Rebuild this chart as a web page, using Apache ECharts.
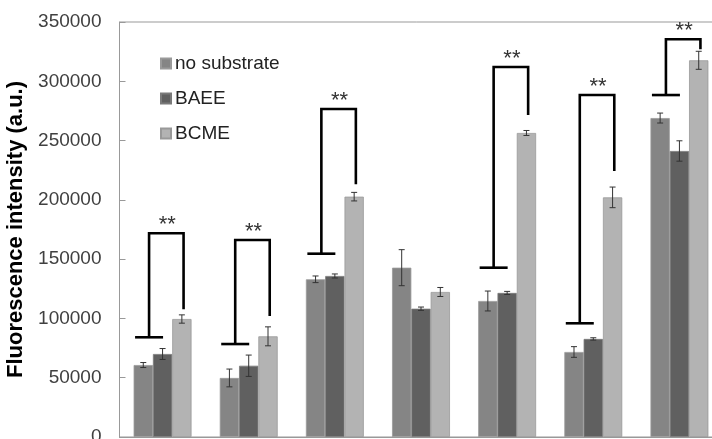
<!DOCTYPE html>
<html>
<head>
<meta charset="utf-8">
<script src="https://cdn.jsdelivr.net/npm/echarts@6/dist/echarts.min.js"></script>
<style>html,body{margin:0;padding:0;background:#fff;}#c{width:712px;height:439px;}</style>
</head>
<body>
<div id="c"></div>
<script>
var categories = ['1', '2', '3', '4', '5', '6', '7'];
var seriesNames = ['no substrate', 'BAEE', 'BCME'];
var noSubstrate = [60700, 49800, 133000, 142800, 114700, 71700, 269000];
var noSubstrateErr = [2100, 7500, 2800, 15200, 8400, 4500, 4200];
var baee = [70000, 60100, 135800, 108200, 121500, 82700, 241200];
var baeeErr = [4600, 9000, 1700, 1400, 1300, 1000, 8600];
var bcme = [99500, 84900, 202700, 122300, 256400, 202100, 317700];
var bcmeErr = [3500, 8000, 3600, 3800, 2100, 8700, 7600];
var yTicks = [0, 50000, 100000, 150000, 200000, 250000, 300000, 350000];
// significance brackets: category index, base bar level, bracket top, right end, label
var sigGroups = [0, 1, 2, 4, 5, 6];
var sigBase = [84100, 78400, 154600, 142800, 95900, 288400];
var sigTop = [171800, 166100, 276600, 312000, 288400, 335400];
var sigEnd = [107700, 102000, 213100, 271600, 224300, 327000];
var sigLabel = ['**', '**', '**', '**', '**', '**'];

var colors = ['#858585', '#606060', '#b3b3b3'];
var BW = 19.3;
var FONT = '"Liberation Sans", Arial, sans-serif';

function errSeries(vals, errs, off) {
  var d = vals.map(function (v, i) { return [i, v, errs[i]]; });
  return {
    type: 'custom', silent: true, z: 5, data: d,
    renderItem: function (params, api) {
      var i = api.value(0), v = api.value(1), e = api.value(2);
      var p1 = api.coord([i, v + e]), p2 = api.coord([i, v - e]);
      var x = p1[0] + off, h = 3;
      return { type: 'group', children: [
        { type: 'line', shape: { x1: x, y1: p1[1], x2: x, y2: p2[1] }, style: { stroke: '#333', lineWidth: 1 } },
        { type: 'line', shape: { x1: x - h, y1: p1[1], x2: x + h, y2: p1[1] }, style: { stroke: '#333', lineWidth: 1 } },
        { type: 'line', shape: { x1: x - h, y1: p2[1], x2: x + h, y2: p2[1] }, style: { stroke: '#333', lineWidth: 1 } }
      ]};
    }
  };
}

var sigData = sigGroups.map(function (g, k) { return [g, sigBase[k], sigTop[k], sigEnd[k], k]; });

var chart = echarts.init(document.getElementById('c'));
chart.setOption({
  animation: false,
  backgroundColor: '#fff',
  color: colors,
  grid: { left: 119.5, top: 22, width: 603, height: 415, show: true, borderColor: '#999', borderWidth: 1,
    containLabel: false, outerBoundsMode: 'none' },
  legend: {
    orient: 'vertical', left: 160, top: 54, padding: 0, itemGap: 16,
    itemWidth: 10, itemHeight: 10, icon: 'rect',
    textStyle: { fontSize: 19, color: '#222', fontFamily: FONT, lineHeight: 19, padding: [0, 0, 0, -1] },
    data: seriesNames
  },
  xAxis: {
    type: 'category', data: categories,
    axisLine: { lineStyle: { color: '#999' } },
    axisTick: { show: false }, axisLabel: { show: false }
  },
  yAxis: {
    type: 'value', min: 0, max: 350000, interval: 50000,
    name: 'Fluorescence intensity (a.u.)', nameLocation: 'middle', nameRotate: 90, nameGap: 89,
    nameTextStyle: { fontSize: 22, fontWeight: 'bold', color: '#000', fontFamily: FONT },
    axisLine: { show: true, lineStyle: { color: '#999' } },
    axisTick: { show: true, inside: true, length: 6, lineStyle: { color: '#999' } },
    splitLine: { show: false },
    axisLabel: { fontSize: 19, color: '#404040', fontFamily: FONT, margin: 18,
      formatter: function (v) { return yTicks.indexOf(v) >= 0 ? String(v) : ''; } }
  },
  series: [
    { name: seriesNames[0], type: 'bar', data: noSubstrate, barWidth: BW, barGap: '0%',
      itemStyle: { color: colors[0], borderColor: '#9a9a9a', borderWidth: 0.8 } },
    { name: seriesNames[1], type: 'bar', data: baee, barWidth: BW, barGap: '0%',
      itemStyle: { color: colors[1], borderColor: '#7a7a7a', borderWidth: 0.8 } },
    { name: seriesNames[2], type: 'bar', data: bcme, barWidth: BW, barGap: '0%',
      itemStyle: { color: colors[2], borderColor: '#999', borderWidth: 0.8 } },
    errSeries(noSubstrate, noSubstrateErr, -BW),
    errSeries(baee, baeeErr, 0),
    errSeries(bcme, bcmeErr, BW),
    {
      type: 'custom', silent: true, z: 6, data: sigData,
      renderItem: function (params, api) {
        var g = api.value(0);
        var pb = api.coord([g, api.value(1)]);
        var pt = api.coord([g, api.value(2)]);
        var pe = api.coord([g, api.value(3)]);
        var c = pb[0];
        var xv = c - 13.5, xr = c + 21;
        var st = { stroke: '#000', lineWidth: 2.6, fill: null, lineJoin: 'miter', lineCap: 'butt' };
        return { type: 'group', children: [
          { type: 'line', shape: { x1: c - 27.5, y1: pb[1], x2: c + 0.5, y2: pb[1] }, style: st },
          { type: 'polyline', shape: { points: [[xv, pb[1]], [xv, pt[1]], [xr, pt[1]], [xr, pe[1]]] }, style: st },
          { type: 'text', x: (xv + xr) / 2 + 1, y: pt[1] + 3,
            style: { text: sigLabel[api.value(4)], fontSize: 22, fill: '#333', fontFamily: FONT,
              align: 'center', verticalAlign: 'bottom', letterSpacing: 3 } }
        ]};
      }
    }
  ]
});
</script>
</body>
</html>
